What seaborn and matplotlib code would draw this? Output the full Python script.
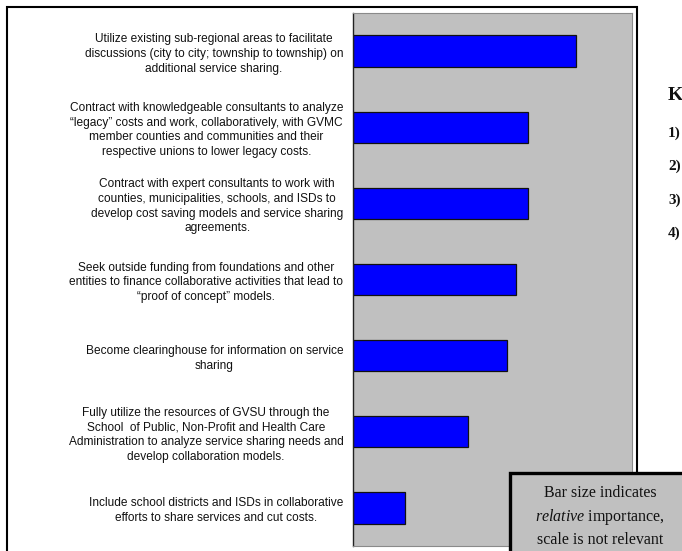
import numpy as np
import matplotlib
matplotlib.use("Agg")
import matplotlib.pyplot as plt
from matplotlib.patches import Rectangle
import seaborn as sns

# Recommendations (top to bottom) and their relative importance scores
recommendations = [
    "Utilize existing sub-regional areas to facilitate\n"
    "discussions (city to city; township to township) on\n"
    "additional service sharing.",
    "Contract with knowledgeable consultants to analyze\n"
    "\u201clegacy\u201d costs and work, collaboratively, with GVMC\n"
    "member counties and communities and their\n"
    "respective unions to lower legacy costs.",
    "Contract with expert consultants to work with\n"
    "counties, municipalities, schools, and ISDs to\n"
    "develop cost saving models and service sharing\n"
    "agreements.",
    "Seek outside funding from foundations and other\n"
    "entities to finance collaborative activities that lead to\n"
    "\u201cproof of concept\u201d models.",
    "Become clearinghouse for information on service\n"
    "sharing",
    "Fully utilize the resources of GVSU through the\n"
    "School  of Public, Non-Profit and Health Care\n"
    "Administration to analyze service sharing needs and\n"
    "develop collaboration models.",
    "Include school districts and ISDs in collaborative\n"
    "efforts to share services and cut costs.",
]
importance = [4.00, 3.14, 3.14, 2.92, 2.76, 2.06, 0.93]

key_heading = "K"
key_items = ["1)", "2)", "3)", "4)"]
note_lines = ["Bar size indicates", "importance,", "scale is not relevant"]

sns.set_style("white")
plt.rcParams["mathtext.fontset"] = "custom"
plt.rcParams["mathtext.rm"] = "Liberation Serif"
plt.rcParams["mathtext.it"] = "Liberation Serif:italic"

W, H = 682, 551
fig = plt.figure(figsize=(W / 100, H / 100), dpi=100)
fig.patch.set_facecolor("white")

# plot area in pixel coordinates
left, right, top, bottom = 353, 632, 13, 546
ax = fig.add_axes([left / W, (H - bottom) / H, (right - left) / W, (bottom - top) / H])
ax.set_facecolor("#C0C0C0")

sns.barplot(x=importance, y=recommendations, orient="h", color="#0000FF",
            saturation=1, width=0.41, edgecolor="#111111", linewidth=0.9, ax=ax)

ax.set_xlim(0, 5)
ax.set_ylim(len(recommendations) - 0.5, -0.5)
ax.set_xlabel("")
ax.set_ylabel("")
ax.set_xticks([])

ax.set_yticks(range(len(recommendations)))
ax.set_yticklabels(recommendations, fontsize=8.6, family="Liberation Sans",
                   color="#111111", linespacing=1.3)
for t in ax.get_yticklabels():
    t.set_multialignment("center")
ax.tick_params(axis="y", which="major", length=0, pad=7)
ax.set_yticks(np.arange(-0.5, len(recommendations) + 0.5, 1), minor=True)
ax.tick_params(axis="y", which="minor", length=4, width=1.0,
               direction="out", color="#222222")

ax.spines["left"].set_color("#222222")
ax.spines["left"].set_linewidth(1.0)
for s in ("top", "right", "bottom"):
    ax.spines[s].set_color("#8a8a8a")
    ax.spines[s].set_linewidth(0.8)

# outer chart frame
fig.add_artist(Rectangle((7 / W, -0.05), 630 / W, (H - 7) / H + 0.05,
                         transform=fig.transFigure, fill=False,
                         edgecolor="black", linewidth=1.5, zorder=3))

# key on the right
fig.text(668 / W, 1 - 95 / H, key_heading, fontsize=14, fontweight="bold",
         family="Liberation Serif", va="center", ha="left", color="#111111")
for i, item in enumerate(key_items):
    fig.text(668 / W, 1 - (133 + 33.5 * i) / H, item, fontsize=11,
             fontweight="bold", family="Liberation Serif", va="center",
             ha="left", color="#111111")

# note box in the lower right
fig.add_artist(Rectangle((510 / W, -0.05), 0.5, (H - 473) / H + 0.05,
                         transform=fig.transFigure, facecolor="#C0C0C0",
                         edgecolor="black", linewidth=2.4, zorder=5))
cx = 600 / W
fig.text(cx, 1 - 493 / H, note_lines[0], fontsize=11.5, family="Liberation Serif",
         ha="center", va="center", color="#111111", zorder=6)
fig.text(cx, 1 - 517 / H, r"$\it{relative}$" + " " + note_lines[1], fontsize=11.5,
         family="Liberation Serif", ha="center", va="center", color="#111111",
         zorder=6)
fig.text(cx, 1 - 540 / H, note_lines[2], fontsize=11.5, family="Liberation Serif",
         ha="center", va="center", color="#111111", zorder=6)

fig.savefig("out.png", dpi=100)
